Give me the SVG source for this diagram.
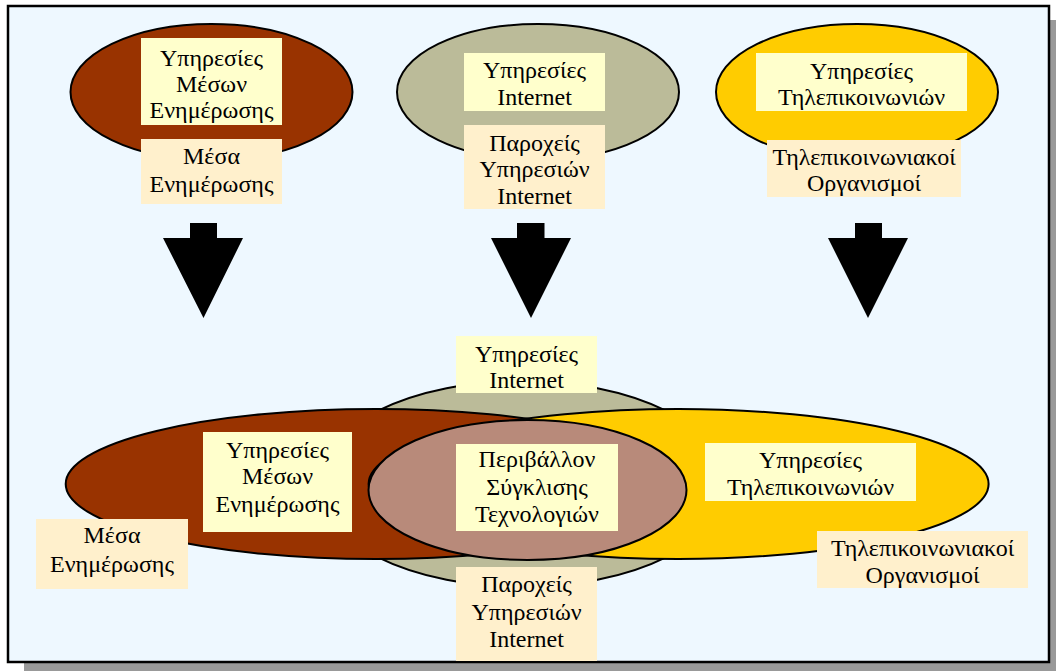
<svg xmlns="http://www.w3.org/2000/svg" width="1056" height="671" viewBox="0 0 1056 671">
<defs>
<style>
text{font-family:'Liberation Serif','DejaVu Serif',serif;font-size:24px;fill:#000;text-anchor:middle}
.el{stroke:#000;stroke-width:2}
.b1{fill:#FFFFCC}
.b2{fill:#FFF0CC}
.arr{fill:#000}
</style>
</defs>
<rect width="1056" height="671" fill="#FFFFFF"/>
<rect x="24" y="20" width="1041" height="656" fill="#999999"/>
<rect x="8" y="6" width="1041" height="656" fill="#EEF8FF" stroke="#000" stroke-width="2.5"/>

<g id="media-top">
<ellipse class="el" cx="211.5" cy="92" rx="141" ry="68" fill="#993300"/>
<rect class="b1" x="141" y="38" width="141" height="87"/>
<text x="211.5" y="66">Υπηρεσίες</text>
<text x="211.5" y="92">Μέσων</text>
<text x="211.5" y="118">Ενημέρωσης</text>
<rect class="b2" x="141" y="139" width="141" height="65"/>
<text x="211.5" y="164">Μέσα</text>
<text x="211.5" y="192">Ενημέρωσης</text>
</g>

<g id="internet-top">
<ellipse class="el" cx="538" cy="92" rx="141" ry="68" fill="#BBBB99"/>
<rect class="b1" x="464" y="53" width="141" height="58"/>
<text x="534.5" y="78">Υπηρεσίες</text>
<text x="534.5" y="105">Internet</text>
<rect class="b2" x="464" y="125" width="141" height="84"/>
<text x="534.5" y="151">Παροχείς</text>
<text x="534.5" y="177">Υπηρεσιών</text>
<text x="534.5" y="204">Internet</text>
</g>

<g id="telecom-top">
<ellipse class="el" cx="857" cy="92" rx="141" ry="68" fill="#FFCC00"/>
<rect class="b1" x="756" y="53" width="211" height="58"/>
<text x="861.5" y="79">Υπηρεσίες</text>
<text x="861.5" y="105">Τηλεπικοινωνιών</text>
<rect class="b2" x="767" y="140" width="194" height="57"/>
<text x="864" y="165">Τηλεπικοινωνιακοί</text>
<text x="864" y="191">Οργανισμοί</text>
</g>

<g id="connectors">
<polygon class="arr" points="190,223 217,223 217,238 243,238 203.5,318 163,238 190,238"/>
<polygon class="arr" points="517,223 544.5,223 544.5,238 571,238 531,318 491,238 517,238"/>
<polygon class="arr" points="855,223 882,223 882,238 908,238 868,318 828,238 855,238"/>
</g>

<g id="convergence">
<ellipse class="el" cx="522" cy="484" rx="205" ry="103" fill="#BBBB99"/>
<ellipse class="el" cx="375.7" cy="484" rx="310" ry="75" fill="#993300"/>
<ellipse class="el" cx="678.6" cy="484" rx="310" ry="75" fill="#FFCC00"/>
<ellipse class="el" cx="527.5" cy="490" rx="159" ry="70" fill="#B88A7A"/>
</g>

<g id="internet-bottom">
<rect class="b1" x="456" y="336" width="141" height="57"/>
<text x="526.5" y="362">Υπηρεσίες</text>
<text x="526.5" y="388">Internet</text>
<rect class="b2" x="456" y="567" width="141" height="94"/>
<text x="526.5" y="592">Παροχείς</text>
<text x="526.5" y="620">Υπηρεσιών</text>
<text x="526.5" y="647">Internet</text>
</g>

<g id="media-bottom">
<rect class="b1" x="203" y="432" width="149" height="100"/>
<text x="277.5" y="458">Υπηρεσίες</text>
<text x="277.5" y="484">Μέσων</text>
<text x="277.5" y="512">Ενημέρωσης</text>
<rect class="b2" x="36" y="519" width="152" height="70"/>
<text x="112" y="543">Μέσα</text>
<text x="112" y="572">Ενημέρωσης</text>
</g>

<g id="environment">
<rect class="b1" x="456" y="444" width="162" height="87"/>
<text x="537" y="467">Περιβάλλον</text>
<text x="537" y="495">Σύγκλισης</text>
<text x="537" y="522">Τεχνολογιών</text>
</g>

<g id="telecom-bottom">
<rect class="b1" x="705" y="443" width="211" height="58"/>
<text x="810.5" y="468">Υπηρεσίες</text>
<text x="810.5" y="495">Τηλεπικοινωνιών</text>
<rect class="b2" x="817" y="531" width="211" height="57"/>
<text x="922.5" y="556">Τηλεπικοινωνιακοί</text>
<text x="922.5" y="583">Οργανισμοί</text>
</g>
</svg>
